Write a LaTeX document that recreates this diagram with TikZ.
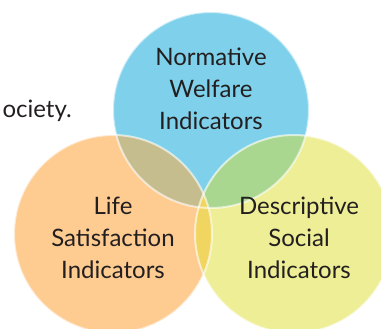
\documentclass[tikz,border=0pt]{standalone}
\usepackage{fontspec}
\setmainfont{Lato}

\definecolor{vennblue}{RGB}{127,209,235}
\definecolor{vennorange}{RGB}{254,203,145}
\definecolor{vennyellow}{RGB}{238,238,150}
\definecolor{venntan}{RGB}{197,189,142}
\definecolor{venngreen}{RGB}{169,215,143}
\definecolor{venngold}{RGB}{240,214,96}
\definecolor{venntext}{RGB}{35,31,32}

\tikzset{every picture/.style={line width=0.75pt}}
\tikzset{
  venn label/.style={align=center, text=venntext, font=\fontsize{18}{24}\selectfont},
  venn rim/.style={draw=white, draw opacity=0.6, line width=1.5pt}
}

\begin{document}
\begin{tikzpicture}[x=0.75pt,y=0.75pt,yscale=-1,xscale=1]
  \useasboundingbox (0,0) rectangle (381,328);
  \clip (0,0) rectangle (381,328);

  \coordinate (norm) at (211,110);
  \coordinate (life) at (113,234);
  \coordinate (desc) at (294,234);

  %Shape: Circles
  \fill[vennblue] (norm) circle (98);
  \fill[vennorange] (life) circle (99);
  \fill[vennyellow] (desc) circle (99);

  %Overlaps
  \begin{scope}
    \clip (norm) circle (98);
    \fill[venntan] (life) circle (99);
    \fill[venngreen] (desc) circle (99);
  \end{scope}
  \begin{scope}
    \clip (life) circle (99);
    \fill[venngold] (desc) circle (99);
  \end{scope}

  %Rims
  \draw[venn rim] (norm) circle (98);
  \draw[venn rim] (life) circle (99);
  \draw[venn rim] (desc) circle (99);

  \node[venn label] (normtext) at (211,89) {Normative\\Welfare\\Indicators};
  \node[venn label] (lifetext) at (113,238) {Life\\Satisfaction\\Indicators};
  \node[venn label] (desctext) at (299,238) {Descriptive\\Social\\Indicators};
  \node[venn label, anchor=base west, inner sep=0pt] (society) at (2,117) {ociety.};

\end{tikzpicture}
\end{document}
